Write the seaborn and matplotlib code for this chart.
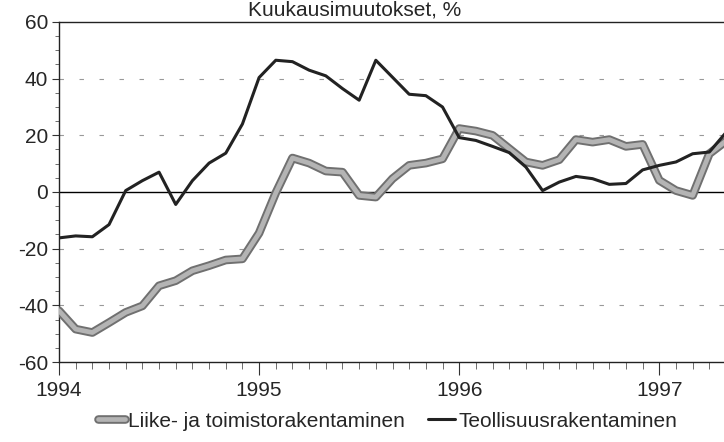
import numpy as np
import pandas as pd
import seaborn as sns
import matplotlib.pyplot as plt
import matplotlib.patheffects as pe
from matplotlib.ticker import MultipleLocator

# monthly values, Jan 1994 - May 1997
liike = [-41.9, -48.4, -49.6, -46.1, -42.5, -40.2, -33.1, -31.3, -27.8, -26.0,
         -24.0, -23.6, -14.5, -0.3, 12.0, 10.2, 7.4, 7.0, -1.2, -1.8,
         4.7, 9.4, 10.2, 11.7, 22.4, 21.5, 20.0, 15.3, 10.6, 9.4,
         11.4, 18.5, 17.6, 18.5, 16.1, 16.8, 4.1, 0.5, -1.2, 13.5, 18.0]
teollisuus = [-16.2, -15.5, -15.8, -11.5, 0.5, 4.0, 7.0, -4.4, 4.0, 10.2,
              13.7, 24.0, 40.4, 46.5, 46.0, 43.0, 41.0, 36.5, 32.4, 46.5,
              40.5, 34.5, 34.0, 30.0, 19.2, 18.2, 16.1, 13.9, 8.8, 0.5,
              3.5, 5.5, 4.7, 2.7, 3.0, 7.8, 9.4, 10.6, 13.5, 14.1, 21.0]
years = ['1994', '1995', '1996', '1997']
labels = ['Liike- ja toimistorakentaminen', 'Teollisuusrakentaminen']

month = np.arange(len(liike))
df = pd.DataFrame({'month': month, labels[0]: liike, labels[1]: teollisuus})

sns.set_style('ticks')
plt.rcParams['font.family'] = ['Liberation Sans', 'DejaVu Sans']
plt.rcParams['axes.unicode_minus'] = False

fig = plt.figure(figsize=(7.24, 4.42), dpi=100)
# right edge of the original picture is cropped, so the axes runs past it
ax = fig.add_axes([59 / 724, 80 / 442, 667 / 724, 340 / 442])

ax.axhline(0, color='black', lw=1.0, zorder=1)
for v in [-40, -20, 20, 40]:
    ax.axhline(v, color='#999999', lw=0.8, ls=(0, (4, 14)), zorder=1)

sns.lineplot(data=df, x='month', y=labels[0], ax=ax, color='#b4b4b4', lw=3.4,
             label=labels[0], zorder=3,
             path_effects=[pe.Stroke(linewidth=6.2, foreground='#707070'), pe.Normal()])
sns.lineplot(data=df, x='month', y=labels[1], ax=ax, color='#222222', lw=2.2,
             label=labels[1], zorder=4)

ax.set_xlim(0, 40)
ax.set_ylim(-60, 60)
ax.set_xticks([0, 12, 24, 36])
ax.set_xticklabels(years)
ax.xaxis.set_minor_locator(MultipleLocator(1))
ax.yaxis.set_major_locator(MultipleLocator(20))
ax.yaxis.set_minor_locator(MultipleLocator(5))
ax.set_xlabel('')
ax.set_ylabel('')

ax.tick_params(axis='both', which='major', labelsize=15, color='#333333', width=0.8)
ax.tick_params(axis='x', which='major', length=9, pad=5)
ax.tick_params(axis='x', which='minor', length=5, width=0.6, color='#555555')
ax.tick_params(axis='y', which='major', length=5, pad=3)
ax.tick_params(axis='y', which='minor', length=3, width=0.6, color='#555555')

for s in ['left', 'bottom', 'top']:
    ax.spines[s].set_visible(True)
    ax.spines[s].set_color('#222222')
    ax.spines[s].set_linewidth(1.0)
ax.spines['right'].set_visible(False)

ax.get_legend().remove()
handles, labs = ax.get_legend_handles_labels()
fig.legend(handles, labs, loc='center', bbox_to_anchor=(0.535, 0.047), ncol=2,
           frameon=False, fontsize=15, handlelength=1.3, handletextpad=0.15,
           columnspacing=1.1, borderaxespad=0)

# title sits right at the top edge, above the frame
fig.text(0.49, 0.966, 'Kuukausimuutokset, %', ha='center', va='baseline', fontsize=15)

fig.savefig('out.png', dpi=100)
